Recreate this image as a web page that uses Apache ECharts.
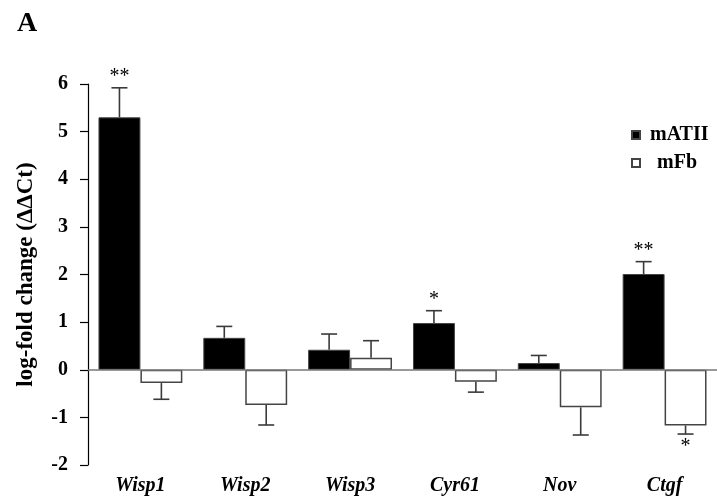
<!DOCTYPE html>
<html>
<head>
<meta charset="utf-8">
<script src="https://cdn.jsdelivr.net/npm/echarts@6/dist/echarts.min.js"></script>
<style>
  html, body { margin: 0; padding: 0; background: #fff; }
  #chart { width: 717px; height: 502px; }
</style>
</head>
<body>
<div id="chart"></div>
<script>
// Gene expression of CCN family members (log-fold change, ΔΔCt)
const categories = ['Wisp1', 'Wisp2', 'Wisp3', 'Cyr61', 'Nov', 'Ctgf'];
const mATII = [5.30, 0.67, 0.42, 0.98, 0.14, 2.01];
const mATIIErr = [0.62, 0.24, 0.33, 0.26, 0.16, 0.26];
const mFb = [-0.28, -0.74, 0.25, -0.25, -0.79, -1.17];
const mFbErr = [0.34, 0.42, 0.36, 0.22, 0.58, 0.18];
const mATIISig = ['**', '', '', '*', '', '**'];
const mFbSig = ['', '', '', '', '', '*'];
const yTicks = { min: -2, max: 6, interval: 1 };

const SERIF = '"Liberation Serif", "Times New Roman", serif';

// One-sided error bar plus significance stars, offset onto the matching bar
function errorSeries(values, errs, sigs, side) {
  return {
    type: 'custom',
    z: 5,
    silent: true,
    data: values.map((v, i) => [i, v, errs[i]]),
    renderItem: function (params, api) {
      const i = api.value(0);
      const v = api.value(1);
      const e = api.value(2);
      const dir = v >= 0 ? 1 : -1;
      const band = api.size([1, 0])[0];
      const dx = side * band * 0.2;
      const p0 = api.coord([i, v]);
      const p1 = api.coord([i, v + dir * e]);
      const x = p0[0] + dx;
      const cap = 8;
      const stroke = { stroke: '#3a3a3a', lineWidth: 1.6 };
      const children = [
        { type: 'line', shape: { x1: x, y1: p0[1], x2: x, y2: p1[1] }, style: stroke },
        { type: 'line', shape: { x1: x - cap, y1: p1[1], x2: x + cap, y2: p1[1] }, style: stroke }
      ];
      const s = sigs[params.dataIndex];
      if (s) {
        children.push({
          type: 'text',
          style: {
            text: s,
            x: x,
            y: dir > 0 ? p1[1] - 11 : p1[1] + 13,
            align: 'center',
            verticalAlign: 'middle',
            font: '20px ' + SERIF,
            fill: '#000'
          }
        });
      }
      return { type: 'group', children: children };
    }
  };
}

const chart = echarts.init(document.getElementById('chart'), null, { renderer: 'canvas' });
chart.setOption({
  animation: false,
  backgroundColor: '#fff',
  title: {
    text: 'A',
    left: 12,
    top: 5,
    textStyle: { fontFamily: SERIF, fontWeight: 'bold', fontSize: 28, color: '#000' }
  },
  legend: {
    orient: 'vertical',
    left: 626,
    top: 120,
    icon: 'rect',
    itemWidth: 8,
    itemHeight: 8,
    itemGap: 8,
    data: ['mATII', 'mFb'],
    formatter: function (name) {
      return name === 'mFb' ? '{b|' + name + '}' : '{a|' + name + '}';
    },
    textStyle: {
      fontFamily: SERIF,
      fontWeight: 'bold',
      fontSize: 20,
      color: '#000',
      rich: {
        a: { fontFamily: SERIF, fontWeight: 'bold', fontSize: 20, padding: [0, 0, 0, 5] },
        b: { fontFamily: SERIF, fontWeight: 'bold', fontSize: 20, padding: [0, 0, 0, 12] }
      }
    }
  },
  grid: { left: 88, top: 84, width: 632, height: 381, containLabel: false },
  xAxis: {
    type: 'category',
    data: categories,
    axisLine: { show: false },
    axisTick: { show: false },
    axisLabel: {
      margin: 11,
      fontFamily: SERIF,
      fontWeight: 'bold',
      fontStyle: 'italic',
      fontSize: 20,
      color: '#000'
    }
  },
  yAxis: {
    type: 'value',
    min: yTicks.min,
    max: yTicks.max,
    interval: yTicks.interval,
    name: 'log-fold change (ΔΔCt)',
    nameLocation: 'middle',
    nameGap: 50,
    nameTextStyle: { fontFamily: SERIF, fontWeight: 'bold', fontSize: 23, color: '#000' },
    axisLine: { show: true, lineStyle: { color: '#000', width: 1.2 } },
    axisTick: { show: true, length: 8, lineStyle: { color: '#000', width: 1.2 } },
    splitLine: { show: false },
    axisLabel: {
      margin: 20,
      fontFamily: SERIF,
      fontWeight: 'bold',
      fontSize: 20,
      color: '#000'
    }
  },
  series: [
    {
      name: 'mATII',
      type: 'bar',
      data: mATII,
      barGap: '0%',
      barCategoryGap: '20%',
      itemStyle: { color: '#000', borderColor: '#444', borderWidth: 1 },
      markLine: {
        silent: true,
        symbol: 'none',
        label: { show: false },
        lineStyle: { color: '#777', width: 1.5, type: 'solid' },
        data: [{ yAxis: 0 }]
      }
    },
    {
      name: 'mFb',
      type: 'bar',
      data: mFb,
      barGap: '0%',
      barCategoryGap: '20%',
      itemStyle: { color: '#fff', borderColor: '#444', borderWidth: 1.5 }
    },
    errorSeries(mATII, mATIIErr, mATIISig, -1),
    errorSeries(mFb, mFbErr, mFbSig, 1)
  ]
});
</script>
</body>
</html>
